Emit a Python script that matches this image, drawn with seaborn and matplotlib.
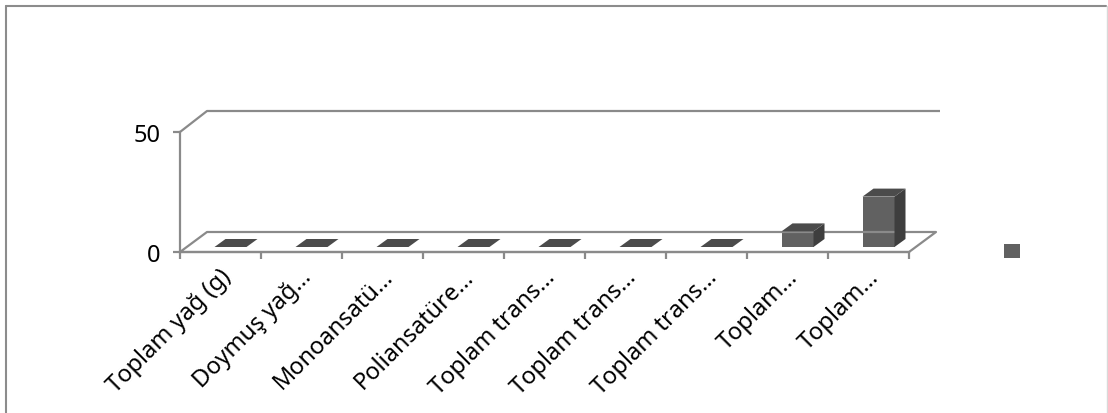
import numpy as np
import pandas as pd
import matplotlib
matplotlib.use("Agg")
import matplotlib.pyplot as plt
import seaborn as sns
from matplotlib.patches import Polygon, Patch
from matplotlib.lines import Line2D
from matplotlib.transforms import IdentityTransform, ScaledTranslation

# Nutrient categories (x axis) and their values
categories = ["Toplam yağ (g)", "Doymuş yağ…", "Monoansatü…", "Poliansatüre…",
              "Toplam trans…", "Toplam trans…", "Toplam trans…", "Toplam…", "Toplam…"]
values = [0, 0, 0, 0, 0, 0, 0, 6.5, 21]
y_ticks = [0, 50]

W, H = 1108, 414
GRID = "#8a8a8a"
FRONT = "#616161"
TOP = "#4b4b4b"
SIDE = "#3e3e3e"

sns.set_theme(style="white")
plt.rcParams["font.family"] = ["Noto Sans", "DejaVu Sans"]

fig = plt.figure(figsize=(W / 100, H / 100), dpi=100)
ax = fig.add_axes([180 / W, 1 - 253 / H, 729 / W, 120 / H])

df = pd.DataFrame({"pos": np.arange(len(categories)), "value": values})
sns.barplot(data=df, x="pos", y="value", color=FRONT, saturation=1,
            width=32 / 81, ax=ax, zorder=5)
ax.set_xlim(-0.5, len(categories) - 0.5)
ax.set_ylim(y_ticks[0], y_ticks[-1])

# pseudo-3D depth offsets in pixels
WALL_DX, WALL_DY = 27, 20      # floor / back wall depth
BAR_DX, BAR_DY = 10, 5         # front face of bars inside the floor
DEPTH_DX, DEPTH_DY = 11, 8     # bar depth

def disp(x, y):
    return ax.transData.transform((x, y))

def seg(points, **kw):
    pts = np.array(points)
    fig.add_artist(Line2D(pts[:, 0], pts[:, 1], transform=IdentityTransform(),
                          color=GRID, lw=1.6, solid_capstyle="butt", **kw))

n = len(categories)
fl = disp(-0.5, 0)
fr = disp(n - 0.5, 0)
# floor outline
seg([fl, fr, fr + (WALL_DX, WALL_DY), fl + (WALL_DX, WALL_DY), fl], zorder=1)
# gridline at the top value running on side and back walls
tl = disp(-0.5, y_ticks[-1])
tr = disp(n - 0.5, y_ticks[-1])
seg([tl, tl + (WALL_DX, WALL_DY + 1), tr + (WALL_DX + 4, WALL_DY + 1)], zorder=1)

# bars: shift front faces, then add top and side faces
shift = ScaledTranslation(BAR_DX / 100, BAR_DY / 100, fig.dpi_scale_trans)
for p in ax.patches:
    p.set_transform(ax.transData + shift)
    p.set_edgecolor("none")
    x0, w, h = p.get_x(), p.get_width(), p.get_height()
    (X0, Y0), (X1, Y1) = ax.transData.transform([(x0, 0), (x0 + w, h)]) + (BAR_DX, BAR_DY)
    top = [(X0, Y1), (X1, Y1), (X1 + DEPTH_DX, Y1 + DEPTH_DY), (X0 + DEPTH_DX, Y1 + DEPTH_DY)]
    side = [(X1, Y0), (X1 + DEPTH_DX, Y0 + DEPTH_DY), (X1 + DEPTH_DX, Y1 + DEPTH_DY), (X1, Y1)]
    fig.add_artist(Polygon(side, closed=True, transform=IdentityTransform(),
                           facecolor=SIDE, edgecolor="none", zorder=6))
    fig.add_artist(Polygon(top, closed=True, transform=IdentityTransform(),
                           facecolor=TOP, edgecolor="none", zorder=6))

# axes styling
for s in ["top", "right"]:
    ax.spines[s].set_visible(False)
for s in ["left", "bottom"]:
    ax.spines[s].set_color(GRID)
    ax.spines[s].set_linewidth(1.6)
ax.set_xlabel("")
ax.set_ylabel("")
ax.set_yticks(y_ticks)
ax.set_yticklabels([str(t) for t in y_ticks], fontsize=17, color="black")
ax.tick_params(axis="y", length=5, width=1.6, color=GRID, pad=9, left=True)
ax.set_xticks(np.arange(n))
ax.set_xticklabels(categories, rotation=45, ha="right", va="center",
                   rotation_mode="anchor", fontsize=17, color="black")
ax.tick_params(axis="x", which="major", length=0, pad=15)
ax.set_xticks(np.arange(n + 1) - 0.5, minor=True)
ax.tick_params(axis="x", which="minor", length=5, width=1.6, color=GRID, bottom=True)
lab_shift = ScaledTranslation(7 / 100, 0, fig.dpi_scale_trans)
for lab in ax.get_xticklabels():
    lab.set_transform(lab.get_transform() + lab_shift)
ax.patch.set_alpha(0)

# legend with a single unlabeled swatch
fig.legend(handles=[Patch(facecolor=FRONT, edgecolor="none")], labels=[""],
           loc="center", bbox_to_anchor=(1012 / W, 1 - 253 / H), frameon=False,
           handlelength=1.1, handleheight=1.1, handletextpad=0, borderpad=0,
           fontsize=10)

# chart frame
fig.add_artist(Line2D([5.5 / W, 5.5 / W], [0, 1 - 6.5 / H], transform=fig.transFigure,
                      color="#8c8c8c", lw=1.5))
fig.add_artist(Line2D([5.5 / W, 1106 / W], [1 - 6.5 / H, 1 - 6.5 / H], transform=fig.transFigure,
                      color="#8c8c8c", lw=1.5))
fig.add_artist(Line2D([1106.5 / W, 1106.5 / W], [0, 1 - 6.5 / H], transform=fig.transFigure,
                      color="#d9d9d9", lw=1.0))

fig.savefig("out.png", dpi=100)
